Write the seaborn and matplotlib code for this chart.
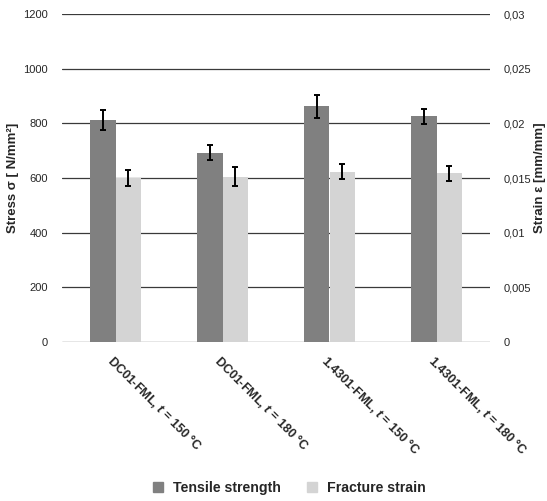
import matplotlib
matplotlib.use("Agg")
import matplotlib.pyplot as plt
import seaborn as sns
import pandas as pd
import numpy as np
from matplotlib.lines import Line2D

categories = ["DC01-FML, $t$ = 150 °C", "DC01-FML, $t$ = 180 °C",
              "1.4301-FML, $t$ = 150 °C", "1.4301-FML, $t$ = 180 °C"]
tensile = [812, 693, 862, 826]
tensile_err = [36, 28, 41, 27]
strain = [0.01500, 0.01512, 0.01558, 0.01543]
strain_err = [0.00072, 0.00085, 0.00068, 0.00068]
series = ["Tensile strength", "Fracture strain"]
colors = {"Tensile strength": "#808080", "Fracture strain": "#d4d4d4"}
left_ticks = [0, 200, 400, 600, 800, 1000, 1200]
right_ticks = [0, 0.005, 0.01, 0.015, 0.02, 0.025, 0.03]
right_labels = ["0", "0,005", "0,01", "0,015", "0,02", "0,025", "0,03"]

sns.set_style("white")
plt.rcParams["font.family"] = ["Liberation Sans", "DejaVu Sans"]
plt.rcParams["mathtext.fontset"] = "custom"
plt.rcParams["mathtext.it"] = "Liberation Sans:italic:bold"
plt.rcParams["mathtext.rm"] = "Liberation Sans:bold"

df_t = pd.DataFrame({"cat": categories, "val": tensile, "series": series[0]})
df_s = pd.DataFrame({"cat": categories, "val": strain, "series": series[1]})

fig = plt.figure(figsize=(5.47, 5.01), dpi=100)
ax = fig.add_axes([62/547, 1-342/501, 428/547, 328/501])
ax2 = ax.twinx()

ax.set_zorder(0)
ax2.set_zorder(1)
ax.patch.set_visible(False)
ax2.patch.set_visible(False)

ax.set_ylim(0, 1200)
ax2.set_ylim(0, 0.03)
ax.set_yticks(left_ticks)
ax2.set_yticks(right_ticks)
for y in left_ticks:
    ax.axhline(y, color="#3a3a3a", lw=0.9, zorder=0)

sns.barplot(data=df_t, x="cat", y="val", hue="series", hue_order=series,
            palette=colors, width=0.48, gap=0, dodge=True, ax=ax, legend=False,
            errorbar=None, saturation=1, linewidth=0, zorder=2)
sns.barplot(data=df_s, x="cat", y="val", hue="series", hue_order=series,
            palette=colors, width=0.48, gap=0, dodge=True, ax=ax2, legend=False,
            errorbar=None, saturation=1, linewidth=0, zorder=2)

def centers(a):
    ps = sorted([p for p in a.patches if p.get_height() > 0], key=lambda p: p.get_x())
    return [p.get_x() + p.get_width()/2 for p in ps]

ax.errorbar(centers(ax), tensile, yerr=tensile_err, fmt="none", ecolor="black",
            elinewidth=1.4, capsize=2.5, capthick=1.4, zorder=3)
ax2.errorbar(centers(ax2), strain, yerr=strain_err, fmt="none", ecolor="black",
             elinewidth=1.4, capsize=2.5, capthick=1.4, zorder=3)

ax.set_xlim(-0.5, 3.5)
ax.set_yticklabels([str(v) for v in left_ticks], fontsize=8)
ax2.set_yticklabels(right_labels, fontsize=8)
ax.tick_params(axis="y", length=0, pad=10)
ax2.tick_params(axis="y", length=0, pad=10)
ax.tick_params(axis="x", length=0, pad=8)
ax.set_xticks(range(len(categories)))
ax.set_xticklabels(categories, rotation=-45, ha="left", va="top",
                   rotation_mode="anchor", fontsize=9, fontweight="bold")
ax.set_xlabel("")
ax.set_ylabel("Stress σ [ N/mm²]", fontsize=9.5, fontweight="bold", labelpad=3)
ax2.set_ylabel("Strain ε [mm/mm]", fontsize=9.5, fontweight="bold", labelpad=2)

for a in (ax, ax2):
    for s in a.spines.values():
        s.set_visible(False)

handles = [Line2D([], [], marker="s", linestyle="none", markersize=7,
                  markerfacecolor=colors[s], markeredgecolor=colors[s]) for s in series]
fig.legend(handles, series, loc="center", bbox_to_anchor=(285/547, 1-488/501),
           ncol=2, frameon=False, prop={"weight": "bold", "size": 10.2},
           handletextpad=0.05, columnspacing=1.2)

fig.savefig("out.png", dpi=100)
